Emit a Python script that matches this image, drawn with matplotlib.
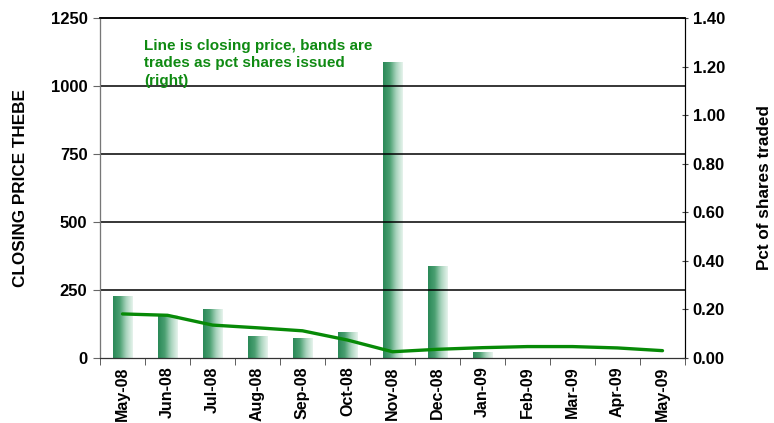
import numpy as np
import matplotlib
matplotlib.use("Agg")
import matplotlib.pyplot as plt
from matplotlib.colors import LinearSegmentedColormap

plt.rcParams['font.family'] = ['Liberation Sans', 'DejaVu Sans']
plt.rcParams['font.weight'] = 'bold'

months = ['May-08', 'Jun-08', 'Jul-08', 'Aug-08', 'Sep-08', 'Oct-08', 'Nov-08',
          'Dec-08', 'Jan-09', 'Feb-09', 'Mar-09', 'Apr-09', 'May-09']
# closing price, thebe (left axis)
closing_price = [162, 157, 121, 111, 100, 66, 23, 32, 38, 42, 42, 37, 27]
# trades as pct of shares issued (right axis)
pct_traded = [0.252, 0.177, 0.198, 0.088, 0.079, 0.103, 1.215, 0.375, 0.021,
              0, 0, 0, 0]
note = "Line is closing price, bands are\ntrades as pct shares issued\n(right)"

x = np.arange(len(months))
barWidth = 0.43

fig = plt.figure(figsize=(7.74, 4.23), dpi=100)
ax1 = fig.add_axes([100/774, 1 - 358/423, 585/774, 340/423])
ax2 = ax1.twinx()

# gridlines on the price axis
for v in [250, 500, 750, 1000]:
    ax1.axhline(v, color='black', lw=1.1, zorder=1)

# gradient bars on the right axis
cmap = LinearSegmentedColormap.from_list('band', ['#2a8957', '#4a9f71', '#a9d4bd', '#e6f3ec'])
grad = np.linspace(0, 1, 64).reshape(1, -1)
for xi, val in zip(x, pct_traded):
    if val <= 0:
        continue
    ax2.imshow(grad, cmap=cmap, aspect='auto', interpolation='bilinear',
               extent=[xi - barWidth/2, xi + barWidth/2, 0, val], zorder=2)

# price line on top of the bars
ax1.set_zorder(ax2.get_zorder() + 1)
ax1.patch.set_visible(False)
ax1.plot(x, closing_price, color='#078a07', lw=2.4, solid_joinstyle='round',
         solid_capstyle='round', zorder=5)

ax1.set_xlim(-0.5, len(months) - 0.5)
ax1.set_ylim(0, 1250)
ax2.set_ylim(0, 1.40)
ax2.set_xlim(-0.5, len(months) - 0.5)

ax1.set_yticks([0, 250, 500, 750, 1000, 1250])
ax1.set_yticklabels(['0', '250', '500', '750', '1000', '1250'], fontsize=12, fontweight='bold')
ax2.set_yticks(np.arange(0, 1.41, 0.2))
ax2.set_yticklabels(['%.2f' % t for t in np.arange(0, 1.41, 0.2)], fontsize=12, fontweight='bold')

ax1.set_xticks(x)
ax1.set_xticklabels(months, rotation=90, fontsize=11.5, fontweight='bold')
ax1.set_xticks(np.arange(len(months) + 1) - 0.5, minor=True)
ax1.tick_params(axis='x', which='major', length=0, pad=6)
ax1.tick_params(axis='x', which='minor', length=5, direction='out', color='#444444')
ax1.tick_params(axis='y', length=5, direction='out', color='#666666', pad=4)
ax2.tick_params(axis='y', length=5, direction='inout', color='#444444', pad=3)

for ax in (ax1, ax2):
    ax.spines['top'].set_color('black')
    ax.spines['top'].set_linewidth(1.1)
ax1.spines['left'].set_color('#777777')
ax2.spines['right'].set_color('#333333')
ax1.spines['bottom'].set_color('#333333')

ax1.set_ylabel('CLOSING PRICE THEBE', fontsize=12.3, fontweight='bold', labelpad=16)
ax2.set_ylabel('Pct of shares traded', fontsize=12.3, fontweight='bold', labelpad=23)

ax1.text(144/774, 1 - 39/423, note, transform=fig.transFigure, color='#0f8a12',
         fontsize=11, fontweight='bold', va='top', ha='left', linespacing=1.3, zorder=6)

fig.savefig('out.png', dpi=100)
